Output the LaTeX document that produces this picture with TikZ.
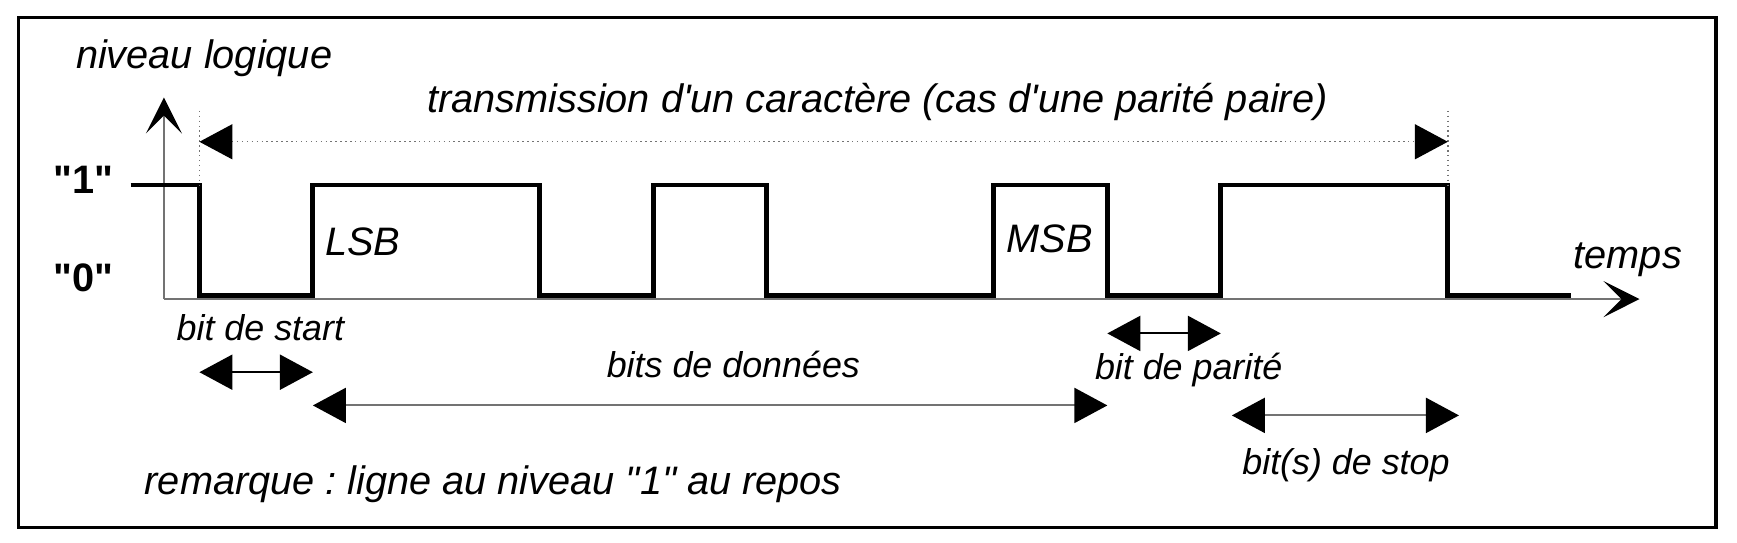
\documentclass[tikz,border=0pt]{standalone}
\usepackage{fontspec}
\setmainfont{Liberation Sans}[Ligatures=TeXOff]
\usetikzlibrary{arrows.meta}
\frenchspacing
\begin{document}
\begin{tikzpicture}[x=0.011078cm, y=-0.011078cm,
    every node/.style={font=\fontsize{11.3}{13}\selectfont\itshape, inner sep=0pt},
    levellabel/.style={font=\fontsize{11.3}{13}\selectfont\bfseries},
    bitlabel/.style={font=\fontsize{10.2}{12}\selectfont\itshape},
    signal/.style={line width=1.4pt, line join=miter},
    axis/.style={draw=black!55, line width=0.6pt, -{Stealth[length=0.36cm, width=0.36cm, inset=0.18cm, color=black]}},
    dimarrow/.style={line width=0.6pt, {Triangle[length=0.33cm, width=0.35cm, color=black]}-{Triangle[length=0.33cm, width=0.35cm, color=black]}},
    guide/.style={draw=black!55, line width=0.4pt, densely dotted}]
    \useasboundingbox (0,0) rectangle (1568,490);
    \draw[line width=0.9pt] (17,16) rectangle (1549,476);
    \foreach \k in {0,...,11}
        \coordinate (b\k) at ({180+102.45*\k},0);
    \coordinate (O) at (148,270);
    \coordinate (ytip) at (148,88);
    \coordinate (xtip) at (1480,270);
    \draw[axis] (O) -- (ytip);
    \draw[axis] (O) -- (xtip);
    \draw[signal] (118,167) -- (b0 |- 0,167) -- (b0 |- 0,267) -- (b1 |- 0,267) -- (b1 |- 0,167)
        -- (b3 |- 0,167) -- (b3 |- 0,267) -- (b4 |- 0,267) -- (b4 |- 0,167) -- (b5 |- 0,167)
        -- (b5 |- 0,267) -- (b7 |- 0,267) -- (b7 |- 0,167) -- (b8 |- 0,167) -- (b8 |- 0,267)
        -- (b9 |- 0,267) -- (b9 |- 0,167) -- (b11 |- 0,167) -- (b11 |- 0,267) -- (1418,267);
    \coordinate (trL) at (b0 |- 0,128);
    \coordinate (trR) at (b11 |- 0,128);
    \draw[guide] (b0 |- 0,100) -- (b0 |- 0,167);
    \draw[guide] (b11 |- 0,100) -- (b11 |- 0,167);
    \draw[dimarrow, guide] (trL) -- (trR);
    \coordinate (stL) at (b0 |- 0,336);
    \coordinate (stR) at (b1 |- 0,336);
    \coordinate (dL) at (b1 |- 0,366);
    \coordinate (dR) at (b8 |- 0,366);
    \coordinate (pL) at (b8 |- 0,301);
    \coordinate (pR) at (b9 |- 0,301);
    \coordinate (spL) at (1112,375);
    \coordinate (spR) at (1317,375);
    \draw[dimarrow] (stL) -- (stR);
    \draw[dimarrow, draw=black!55] (dL) -- (dR);
    \draw[dimarrow] (pL) -- (pR);
    \draw[dimarrow, draw=black!55] (spL) -- (spR);
    \node[anchor=base west] (ylabel) at (68,62) {niveau logique};
    \node[anchor=base] (title) at (792,102) {transmission d'un caractère (cas d'une parité paire)};
    \node[levellabel, anchor=base west] (one) at (48,175) {"1"};
    \node[levellabel, anchor=base west] (zero) at (48,263) {"0"};
    \node[anchor=base west] (lsb) at (293,231) {LSB};
    \node[anchor=base west] (msb) at (908,228) {MSB};
    \node[anchor=base west] (temps) at (1420,242) {temps};
    \node[bitlabel, anchor=base] (startlabel) at (235,307) {bit de start};
    \node[bitlabel, anchor=base] (datalabel) at (662,341) {bits de données};
    \node[bitlabel, anchor=base] (paritylabel) at (1073,343) {bit de parité};
    \node[bitlabel, anchor=base] (stoplabel) at (1215,428) {bit(s) de stop};
    \node[anchor=base west] (note) at (130,446) {remarque : ligne au niveau "1" au repos};
\end{tikzpicture}
\end{document}
